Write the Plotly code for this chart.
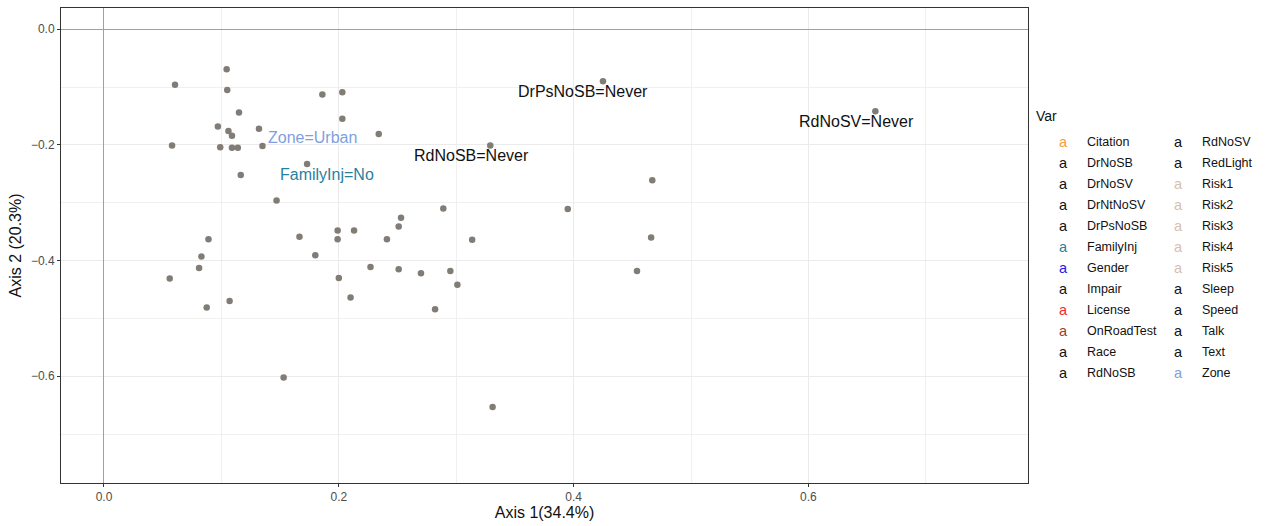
import plotly.graph_objects as go

# MCA category coordinates (dimension 1, dimension 2)
dim1 = [0.1045, 0.0605, 0.105, 0.186, 0.203, 0.115, 0.203, 0.097, 0.106, 0.109,
        0.132, 0.234, 0.058, 0.099, 0.109, 0.114, 0.135, 0.173, 0.1165, 0.147,
        0.089, 0.083, 0.081, 0.056, 0.0875, 0.107, 0.1665, 0.180, 0.199, 0.199,
        0.213, 0.200, 0.210, 0.153, 0.227, 0.241, 0.251, 0.253, 0.251, 0.270,
        0.289, 0.295, 0.301, 0.282, 0.3136, 0.329, 0.425, 0.657, 0.467, 0.395,
        0.466, 0.454, 0.331]
dim2 = [-0.069, -0.096, -0.105, -0.113, -0.109, -0.144, -0.155, -0.168, -0.176, -0.184,
        -0.172, -0.181, -0.201, -0.204, -0.205, -0.205, -0.202, -0.233, -0.252, -0.296,
        -0.363, -0.393, -0.413, -0.431, -0.481, -0.470, -0.359, -0.391, -0.348, -0.363,
        -0.348, -0.430, -0.464, -0.602, -0.411, -0.363, -0.341, -0.326, -0.415, -0.422,
        -0.310, -0.418, -0.442, -0.484, -0.364, -0.201, -0.090, -0.142, -0.261, -0.311,
        -0.360, -0.418, -0.653]

# Labelled categories and where their text sits
label_text = ["DrPsNoSB=Never", "RdNoSV=Never", "RdNoSB=Never", "Zone=Urban", "FamilyInj=No"]
label_var = ["DrPsNoSB", "RdNoSV", "RdNoSB", "Zone", "FamilyInj"]
label_x = [0.408, 0.641, 0.313, 0.178, 0.190]
label_y = [-0.108, -0.159, -0.219, -0.187, -0.251]

# Variables and their colours
var_names = ["Citation", "DrNoSB", "DrNoSV", "DrNtNoSV", "DrPsNoSB", "FamilyInj",
             "Gender", "Impair", "License", "OnRoadTest", "Race", "RdNoSB",
             "RdNoSV", "RedLight", "Risk1", "Risk2", "Risk3", "Risk4", "Risk5",
             "Sleep", "Speed", "Talk", "Text", "Zone"]
var_colors = ["#F39B3C", "#111111", "#111111", "#111111", "#111111", "#2A7FA0",
              "#1A1AF0", "#111111", "#F22A2A", "#A33A22", "#111111", "#111111",
              "#111111", "#111111", "#D5BFAE", "#D5BFAE", "#D5BFAE", "#D5BFAE", "#D5BFAE",
              "#111111", "#111111", "#111111", "#111111", "#7E9FDF"]
color_of = dict(zip(var_names, var_colors))

x_title = "Axis 1(34.4%)"
y_title = "Axis 2 (20.3%)"
FONT = "Liberation Sans, Arial, sans-serif"

W, H = 1265, 526
L, R, T, B = 61, 1028, 7, 486  # plotting panel in pixels


def px_x(p):
    return (p - L) / (R - L)


def px_y(p):
    return (B - p) / (B - T)


fig = go.Figure()
fig.add_trace(go.Scatter(
    x=dim1, y=dim2, mode="markers",
    marker=dict(size=6.5, color="#827C77"),
    hoverinfo="x+y", showlegend=False,
))

annotations = []
for t, v, x, y in zip(label_text, label_var, label_x, label_y):
    annotations.append(dict(
        x=x, y=y, xref="x", yref="y", text=t, showarrow=False,
        xanchor="center", yanchor="middle",
        font=dict(family=FONT, size=16, color=color_of[v]),
    ))

# Two-column legend built from the variable list
annotations.append(dict(
    x=px_x(1034), y=px_y(116), xref="paper", yref="paper", text="Var",
    showarrow=False, xanchor="left", yanchor="middle",
    font=dict(family=FONT, size=14, color="#111111"),
))
rows = 12
for i, (name, col) in enumerate(zip(var_names, var_colors)):
    c, r = divmod(i, rows)
    key_x = 1063 + c * 115
    text_x = 1085 + c * 115
    yy = 141.7 + r * 21.2
    annotations.append(dict(
        x=px_x(key_x), y=px_y(yy), xref="paper", yref="paper", text="a",
        showarrow=False, xanchor="center", yanchor="middle",
        font=dict(family=FONT, size=14.5, color=col),
    ))
    annotations.append(dict(
        x=px_x(text_x), y=px_y(yy), xref="paper", yref="paper", text=name,
        showarrow=False, xanchor="left", yanchor="middle",
        font=dict(family=FONT, size=12.5, color="#111111"),
    ))

axis_common = dict(
    showline=True, mirror=True, linecolor="#333333", linewidth=1,
    ticks="outside", ticklen=3, tickcolor="#333333",
    tickfont=dict(family=FONT, size=12, color="#4D4D4D"),
    showgrid=True, gridcolor="#EBEBEB", gridwidth=1,
    zeroline=True, zerolinecolor="#A0A0A0", zerolinewidth=1,
    minor=dict(dtick=0.1, showgrid=True, gridcolor="#F0F0F0", gridwidth=1),
    tickformat=".1f", dtick=0.2,
)

fig.update_layout(
    width=W, height=H,
    margin=dict(l=L, r=W - R, t=T, b=H - B),
    paper_bgcolor="white", plot_bgcolor="white",
    xaxis=dict(range=[-0.0366, 0.787], tick0=0,
               title=dict(text=x_title, font=dict(family=FONT, size=16, color="#111111"), standoff=3),
               **axis_common),
    yaxis=dict(range=[-0.7846, 0.0367], tick0=0,
               title=dict(text=y_title, font=dict(family=FONT, size=16, color="#111111"), standoff=5),
               **axis_common),
    annotations=annotations,
    showlegend=False,
)

fig.write_html("out.html")
